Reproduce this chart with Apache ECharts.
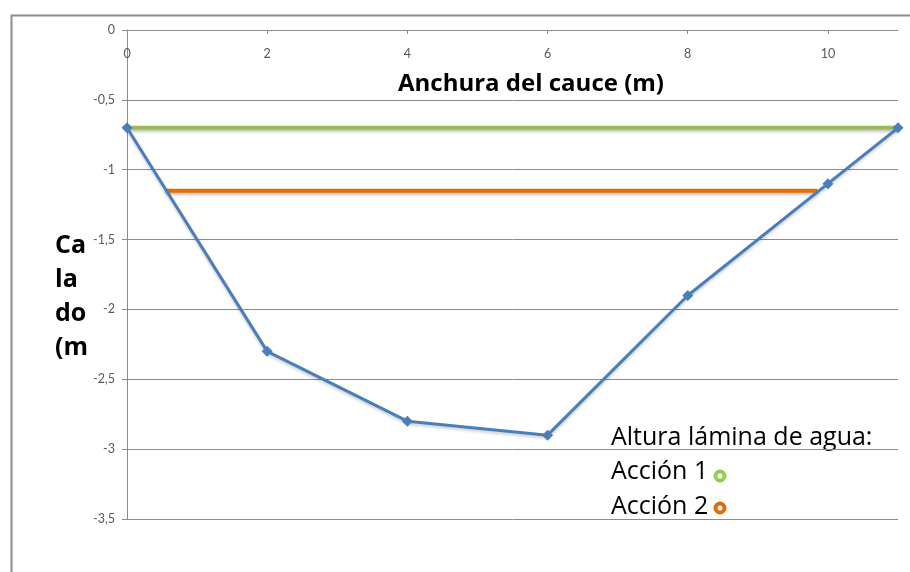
<!DOCTYPE html>
<html><head><meta charset="utf-8">
<script src="https://cdn.jsdelivr.net/npm/echarts@6/dist/echarts.min.js"></script>
<style>html,body{margin:0;padding:0;background:#fff}#c{width:910px;height:572px}</style>
</head><body><div id="c"></div>
<script>
// Data
const cauceX = [0, 2, 4, 6, 8, 10, 11];
const cauceY = [-0.7, -2.3, -2.8, -2.9, -1.9, -1.1, -0.7];
const accion1X = [0, 11];
const accion1Y = [-0.7, -0.7];
const accion2X = [0.55, 9.85];
const accion2Y = [-1.15, -1.15];
const xTitle = 'Anchura del cauce (m)';
const yTitle = 'Ca\nla\ndo\n(m';
const legendTitle = 'Altura lámina de agua:';
const legendNames = ['Acción 1', 'Acción 2'];

const pairs = (xs, ys) => xs.map((x, i) => [x, ys[i]]);
const fmt = v => String(v).replace('.', ',');
const FONT = '"Open Sans", sans-serif';

const chart = echarts.init(document.getElementById('c'), null, {renderer: 'canvas'});
chart.setOption({
  animation: false,
  backgroundColor: '#fff',
  grid: {left: 127, right: 12, top: 30, bottom: 53},
  xAxis: {
    type: 'value', position: 'top', min: 0, max: 11, interval: 2,
    axisLine: {show: true, onZero: false, lineStyle: {color: '#8c8c8c', width: 1}},
    axisTick: {show: true, inside: true, length: 4, lineStyle: {color: '#8c8c8c'}},
    axisLabel: {inside: true, margin: 17, color: '#595959', fontSize: 12.5, fontFamily: 'Lato, sans-serif', showMaxLabel: false, formatter: fmt},
    splitLine: {show: false}
  },
  yAxis: {
    type: 'value', min: -3.5, max: 0, interval: 0.5,
    axisLine: {show: true, onZero: false, lineStyle: {color: '#8c8c8c', width: 1}},
    axisTick: {show: true, length: 5, lineStyle: {color: '#8c8c8c'}},
    axisLabel: {margin: 12, color: '#595959', fontSize: 12.5, fontFamily: 'Lato, sans-serif', formatter: fmt},
    splitLine: {show: true, lineStyle: {color: '#8c8c8c', width: 1}}
  },
  series: [
    {name: legendNames[0], type: 'line', data: pairs(accion1X, accion1Y), symbol: 'none',
     lineStyle: {color: '#9BBB59', width: 4, shadowColor: 'rgba(0,0,0,0.25)', shadowBlur: 3, shadowOffsetY: 2}},
    {name: legendNames[1], type: 'line', data: pairs(accion2X, accion2Y), symbol: 'none',
     lineStyle: {color: '#E36C09', width: 4, shadowColor: 'rgba(0,0,0,0.25)', shadowBlur: 3, shadowOffsetY: 2}},
    {name: 'Cauce', type: 'line', data: pairs(cauceX, cauceY), symbol: 'diamond', symbolSize: 11,
     itemStyle: {color: '#4A7EBB'},
     lineStyle: {color: '#4A7EBB', width: 3, shadowColor: 'rgba(0,0,0,0.2)', shadowBlur: 3, shadowOffsetY: 2}}
  ],
  graphic: [
    {type: 'rect', left: 9, top: 13, shape: {width: 1000, height: 1000}, silent: true,
     style: {fill: 'none', stroke: '#8c8c8c', lineWidth: 2}, z: 100},
    {type: 'text', left: 398, top: 72, style: {text: xTitle, font: 'bold 24px ' + FONT, fill: '#000'}},
    {type: 'text', left: 55, top: 229, style: {text: yTitle, font: 'bold 25px ' + FONT, fill: '#000', lineHeight: 34}},
    {type: 'text', left: 611, top: 425, style: {text: legendTitle, font: '25px ' + FONT, fill: '#000'}},
    {type: 'text', left: 611, top: 459, style: {text: legendNames[0], font: '25px ' + FONT, fill: '#000'}},
    {type: 'text', left: 611, top: 494, style: {text: legendNames[1], font: '25px ' + FONT, fill: '#000'}},
    {type: 'circle', shape: {cx: 720, cy: 476, r: 4.5}, style: {fill: '#fff', stroke: '#92D050', lineWidth: 4}},
    {type: 'circle', shape: {cx: 720, cy: 508, r: 4.5}, style: {fill: '#fff', stroke: '#E36C09', lineWidth: 4}}
  ]
});
</script></body></html>
